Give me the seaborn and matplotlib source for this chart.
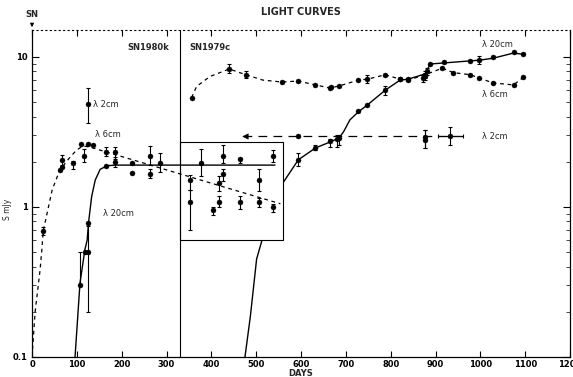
import numpy as np
import pandas as pd
import matplotlib
matplotlib.use("Agg")
import matplotlib.pyplot as plt
from matplotlib.ticker import FixedLocator, LogLocator, NullFormatter, FixedFormatter
import seaborn as sns

# ---------------- data ----------------
# SN1980k, 6 cm
k6_day = [25, 62, 66, 68, 92, 109, 116, 124, 137, 165, 185, 224, 224, 263, 352, 403, 416, 427, 464, 507, 507, 538]
k6_S   = [0.69, 1.76, 1.84, 2.06, 1.95, 2.62, 2.19, 2.62, 2.58, 2.34, 2.34, 1.97, 1.69, 1.66, 1.08, 0.955, 1.08, 1.66, 1.08, 1.51, 1.08, 1.0]
k6_lo  = [0.65, 1.76, 1.84, 1.90, 1.79, 2.62, 2.00, 2.62, 2.58, 2.20, 2.10, 1.97, 1.69, 1.55, 0.70, 0.88, 1.00, 1.50, 0.97, 1.27, 1.00, 0.92]
k6_hi  = [0.73, 1.76, 1.84, 2.22, 2.02, 2.62, 2.42, 2.62, 2.58, 2.50, 2.50, 1.97, 1.69, 1.80, 1.30, 1.00, 1.18, 1.80, 1.18, 1.78, 1.15, 1.05]
k6_curve_day = [0, 7, 18, 22, 25, 45, 62, 85, 100, 114, 130, 554]
k6_curve_S   = [0.1, 0.2, 0.38, 0.52, 0.69, 1.3, 1.76, 2.15, 2.4, 2.55, 2.5, 1.05]

# SN1980k, 20 cm
k20_day = [107, 118, 126, 126, 165, 185, 263, 286, 352, 377, 416, 427, 464, 538]
k20_S   = [0.30, 0.50, 0.50, 0.78, 1.88, 2.00, 2.19, 1.97, 1.51, 1.97, 1.45, 2.19, 2.08, 2.19]
k20_lo  = [0.30, 0.50, 0.20, 0.78, 1.88, 1.85, 1.90, 1.72, 1.30, 1.60, 1.27, 1.95, 1.97, 2.00]
k20_hi  = [0.50, 0.50, 0.75, 0.78, 1.88, 2.15, 2.55, 2.30, 1.63, 2.42, 1.60, 2.60, 2.12, 2.38]
k20_curve_day = [96, 107, 118, 123, 126, 133, 141, 152, 167, 185, 542]
k20_curve_S   = [0.1, 0.31, 0.52, 0.6, 0.78, 1.17, 1.51, 1.78, 1.88, 1.9, 1.9]

# SN1980k, 2 cm
k2_day = [126]
k2_S   = [4.84]
k2_lo  = [3.6]
k2_hi  = [6.2]

# SN1979c, 20 cm
c20_day = [594, 631, 665, 681, 685, 728, 748, 787, 821, 839, 872, 877, 882, 888, 918, 977, 998, 1029, 1074, 1095]
c20_S   = [2.06, 2.46, 2.73, 2.83, 2.88, 4.39, 4.78, 5.98, 7.1, 7.1, 7.2, 7.6, 8.0, 8.96, 9.2, 9.45, 9.5, 9.96, 10.7, 10.5]
c20_lo  = [1.86, 2.40, 2.50, 2.50, 2.60, 4.39, 4.78, 5.60, 7.1, 7.1, 6.8, 7.2, 7.6, 8.96, 9.2, 9.45, 8.9, 9.96, 10.7, 10.5]
c20_hi  = [2.28, 2.60, 2.85, 3.00, 3.00, 4.39, 4.78, 6.40, 7.1, 7.1, 7.6, 8.0, 8.4, 8.96, 9.2, 9.45, 10.2, 9.96, 10.7, 10.5]
c20_curve_day = [475, 487, 501, 513, 560, 594, 632, 665, 685, 695, 709, 728, 748, 788, 821, 839, 877, 888, 917, 977, 998, 1029, 1074, 1096]
c20_curve_S   = [0.1, 0.186, 0.45, 0.6, 1.45, 2.06, 2.47, 2.71, 2.88, 3.17, 3.8, 4.3, 4.78, 6.0, 7.0, 7.1, 7.7, 8.96, 9.1, 9.4, 9.5, 9.8, 10.6, 10.4]

# SN1979c, 6 cm
c6_day = [356, 440, 477, 557, 594, 632, 665, 668, 685, 728, 748, 788, 821, 839, 877, 915, 940, 978, 998, 1029, 1074, 1096]
c6_S   = [5.35, 8.3, 7.6, 6.8, 6.9, 6.5, 6.2, 6.3, 6.4, 7.0, 7.1, 7.6, 7.1, 7.0, 7.4, 8.4, 7.85, 7.6, 7.2, 6.7, 6.5, 7.3]
c6_lo  = [5.35, 7.8, 7.2, 6.8, 6.9, 6.5, 6.2, 6.3, 6.4, 7.0, 6.7, 7.6, 7.1, 7.0, 7.0, 8.4, 7.85, 7.6, 7.2, 6.7, 6.5, 7.3]
c6_hi  = [5.35, 8.9, 8.0, 6.8, 6.9, 6.5, 6.2, 6.3, 6.4, 7.0, 7.6, 7.6, 7.1, 7.0, 7.8, 8.4, 7.85, 7.6, 7.2, 6.7, 6.5, 7.3]
c6_curve_day = [356, 367, 397, 440, 477, 515, 557, 594, 632, 665, 685, 728, 748, 788, 821, 839, 877, 915, 940, 978, 998, 1029, 1074, 1096]
c6_curve_S   = [5.35, 6.35, 7.4, 8.3, 7.6, 7.0, 6.8, 6.9, 6.5, 6.2, 6.4, 7.0, 7.1, 7.6, 7.1, 7.0, 7.6, 8.4, 7.85, 7.6, 7.2, 6.7, 6.5, 7.3]

# SN1979c, 2 cm
c2_day = [594, 877, 877, 933]
c2_S   = [2.95, 2.94, 2.80, 2.95]
c2_lo  = [2.95, 2.47, 2.47, 2.60]
c2_hi  = [2.95, 3.26, 3.26, 3.40]
c2_xlo = [594, 877, 877, 906]
c2_xhi = [594, 877, 877, 961]
c2_line_day = [471, 962]
c2_line_S   = [2.95, 2.95]
c2_start_day = [475]
c2_start_S   = [2.95]

# separator between the two supernovae
sep_day = [330, 330]
sep_S   = [0.1, 15.1]
box_day = [330, 560, 560, 330]
box_S   = [2.71, 2.71, 0.6, 0.6]

x_ticks = [0, 100, 200, 300, 400, 500, 600, 700, 800, 900, 1000, 1100, 1200]
x_ticklabels = ["0", "100", "200", "300", "400", "500", "600", "700", "800", "900", "1000", "1100", "1200"]
y_ticks = [0.1, 1, 10]
y_ticklabels = ["0.1", "1", "10"]

# ---------------- figure ----------------
sns.set_style("ticks")
plt.rcParams["font.family"] = ["DejaVu Sans"]

fig = plt.figure(figsize=(5.73, 3.77), dpi=100)
ax = fig.add_axes([32 / 573, 20 / 377, 538 / 573, 327 / 377])
ax.set_yscale("log")
ax.set_xlim(0, 1200)
ax.set_ylim(0.1, 15.1)

K = "black"

def curve(x, y, ls, lw=1.0, z=2):
    df = pd.DataFrame({"day": x, "S": y})
    sns.lineplot(data=df, x="day", y="S", ax=ax, color=K, lw=lw, linestyle=ls,
                 sort=False, estimator=None, legend=False, zorder=z)

def points(x, y, lo, hi, z=4, xlo=None, xhi=None, marker="o"):
    x = np.asarray(x, float); y = np.asarray(y, float)
    yerr = np.vstack([y - np.asarray(lo), np.asarray(hi) - y])
    xerr = None
    if xlo is not None:
        xerr = np.vstack([x - np.asarray(xlo), np.asarray(xhi) - x])
    ax.errorbar(x, y, yerr=yerr, xerr=xerr, fmt="none", ecolor=K, elinewidth=0.8,
                capsize=1.5, capthick=0.8, zorder=z)
    df = pd.DataFrame({"day": x, "S": y})
    sns.scatterplot(data=df, x="day", y="S", ax=ax, color=K, s=13, marker=marker,
                    edgecolor=K, linewidth=0.3, zorder=z + 1, legend=False)

# SN1979c (behind the SN1980k box)
curve(c20_curve_day, c20_curve_S, "-", lw=1.0, z=1)
curve(c6_curve_day, c6_curve_S, (0, (3, 3)), lw=0.9, z=1)
curve(c2_line_day, c2_line_S, (0, (7, 5)), lw=0.9, z=1)
points(c20_day, c20_S, c20_lo, c20_hi, z=1.2)
points(c6_day, c6_S, c6_lo, c6_hi, z=1.2)
points(c2_day, c2_S, c2_lo, c2_hi, z=1.2, xlo=c2_xlo, xhi=c2_xhi)
df_arrow = pd.DataFrame({"day": c2_start_day, "S": c2_start_S})
sns.scatterplot(data=df_arrow, x="day", y="S", ax=ax, color=K, s=16, marker="<",
                edgecolor=K, zorder=1.5, legend=False)

# separator box (white, hides SN1979c behind it)
ax.fill(box_day, box_S, facecolor="white", edgecolor="none", zorder=1.8)
curve(box_day + [box_day[0]], box_S + [box_S[0]], "-", lw=0.8, z=2)
curve(sep_day, sep_S, "-", lw=0.8, z=2)

# SN1980k
curve(k6_curve_day, k6_curve_S, (0, (3, 3)), lw=0.9, z=3)
curve(k20_curve_day, k20_curve_S, "-", lw=1.0, z=3)
points(k6_day, k6_S, k6_lo, k6_hi, z=4)
points(k20_day, k20_S, k20_lo, k20_hi, z=4)
points(k2_day, k2_S, k2_lo, k2_hi, z=4)

# labels
fs = 6
ax.text(136, 4.84, "λ 2cm", fontsize=fs, va="center", ha="left")
ax.text(141, 3.02, "λ 6cm", fontsize=fs, va="center", ha="left")
ax.text(159, 0.90, "λ 20cm", fontsize=fs, va="center", ha="left")
ax.text(1003, 12.0, "λ 20cm", fontsize=fs, va="center", ha="left")
ax.text(1003, 5.6, "λ 6cm", fontsize=fs, va="center", ha="left")
ax.text(1003, 2.93, "λ 2cm", fontsize=fs, va="center", ha="left")
ax.text(305, 11.5, "SN1980k", fontsize=fs, va="center", ha="right", fontweight="bold")
ax.text(350, 11.5, "SN1979c", fontsize=fs, va="center", ha="left", fontweight="bold")

ax.set_title("LIGHT CURVES", fontsize=7, fontweight="bold", pad=11)
ax.set_xlabel("DAYS", fontsize=6, fontweight="bold", labelpad=0)
ax.set_ylabel("S mJy", fontsize=5.5)
ax.yaxis.set_label_coords(-0.037, 0.45)
ax.annotate("SN", xy=(0, 1.0), xycoords="axes fraction", xytext=(0, 1.035),
            textcoords="axes fraction", fontsize=6, fontweight="bold", ha="center", va="bottom",
            arrowprops=dict(arrowstyle="-|>", color=K, lw=0.8, mutation_scale=5))

# axes styling
ax.xaxis.set_major_locator(FixedLocator(x_ticks))
ax.xaxis.set_major_formatter(FixedFormatter(x_ticklabels))
ax.yaxis.set_major_locator(FixedLocator(y_ticks))
ax.yaxis.set_major_formatter(FixedFormatter(y_ticklabels))
ax.yaxis.set_minor_locator(LogLocator(base=10, subs=np.arange(2, 10)))
ax.yaxis.set_minor_formatter(NullFormatter())
ax.tick_params(axis="x", which="major", direction="in", length=4, width=0.8, top=True,
               labelsize=6, pad=2, colors=K)
ax.tick_params(axis="y", which="major", direction="in", length=5, width=0.8, right=True,
               labelsize=6, pad=3, colors=K)
ax.tick_params(axis="y", which="minor", direction="in", length=3, width=0.6, right=True)
for lab in ax.get_xticklabels() + ax.get_yticklabels():
    lab.set_fontweight("bold")
for s in ["left", "bottom", "right"]:
    ax.spines[s].set_visible(True)
    ax.spines[s].set_color(K)
    ax.spines[s].set_linewidth(0.9)
ax.spines["top"].set_visible(True)
ax.spines["top"].set_linestyle((0, (1, 3)))
ax.spines["top"].set_linewidth(0.8)
ax.spines["top"].set_color(K)

fig.savefig("out.png", dpi=100, facecolor="white")
